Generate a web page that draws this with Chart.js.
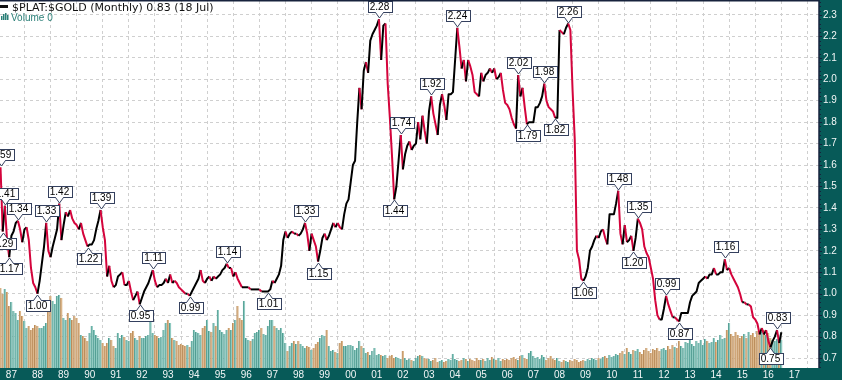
<!DOCTYPE html>
<html lang="en">
<head>
<meta charset="utf-8">
<title>$PLAT:$GOLD (Monthly)</title>
<script src="https://cdn.jsdelivr.net/npm/chart.js@4.4.0/dist/chart.umd.min.js"></script>
<style>
    html, body { margin: 0; padding: 0; background: #fff; }
    #wrap { width: 842px; height: 380px; position: relative; overflow: hidden; }
    canvas { display: block; }
</style>
</head>
<body>
<div id="wrap"><canvas id="ratioChart" width="842" height="380"></canvas></div>
<script>
// months are counted from Jan 1987 = 0, first close is Aug 1986
const firstMonth = -5;

const ratio = [
    1.59, 1.29, 1.41, 1.25, 1.17,
    1.27, 1.29, 1.33, 1.34, 1.30, 1.24, 1.30, 1.31, 1.25, 1.12, 1.05, 1.03,
    1.00, 1.06, 1.14, 1.22, 1.33, 1.20, 1.17, 1.22, 1.26, 1.30, 1.42, 1.25,
    1.32, 1.38, 1.36, 1.39, 1.35, 1.33, 1.32, 1.30, 1.33, 1.28, 1.25, 1.22,
    1.23, 1.23, 1.25, 1.30, 1.34, 1.39, 1.31, 1.25, 1.08, 1.13, 1.06, 1.03,
    1.04, 1.08, 1.09, 1.10, 1.04, 1.04, 1.06, 1.01, 0.97, 0.99, 1.01, 0.95,
    0.98, 1.01, 1.03, 1.05, 1.08, 1.11, 1.06, 1.03, 1.04, 1.04, 1.05, 1.07,
    1.05, 1.09, 1.05, 1.06, 1.05, 1.03, 1.02, 1.01, 1.00, 1.00, 0.99, 1.01,
    1.03, 1.05, 1.07, 1.11, 1.06, 1.05, 1.07, 1.08, 1.06, 1.08, 1.07, 1.08,
    1.09, 1.11, 1.12, 1.14, 1.12, 1.12, 1.08, 1.10, 1.07, 1.05, 1.03, 1.03,
    1.03, 1.03, 1.02, 1.02, 1.02, 1.02, 1.02, 1.01, 1.01, 1.01, 1.01, 1.02,
    1.06, 1.05, 1.07, 1.09, 1.13, 1.25, 1.29, 1.26, 1.28, 1.29, 1.28, 1.28,
    1.27, 1.28, 1.30, 1.33, 1.28, 1.20, 1.28, 1.25, 1.22, 1.15, 1.20, 1.26,
    1.28, 1.25, 1.27, 1.30, 1.33, 1.31, 1.33, 1.31, 1.30, 1.37, 1.42, 1.44,
    1.52, 1.60, 1.62, 1.80, 1.96, 1.86, 2.04, 2.08, 2.03, 2.18, 2.21, 2.23,
    2.25, 2.28, 2.09, 2.25, 2.26, 1.98, 1.82, 1.64, 1.44, 1.50, 1.62, 1.74,
    1.58, 1.65, 1.69, 1.71, 1.67, 1.69, 1.70, 1.80, 1.72, 1.83, 1.76, 1.70,
    1.85, 1.92, 1.84, 1.79, 1.74, 1.88, 1.93, 1.88, 1.81, 1.93, 1.93, 1.94,
    2.09, 2.24, 2.15, 2.05, 2.09, 1.99, 2.09, 2.06, 2.02, 1.94, 1.93, 1.92,
    2.03, 1.99, 2.02, 2.03, 2.05, 2.03, 2.05, 2.00, 2.01, 2.03, 1.95, 1.89,
    1.88, 1.86, 1.82, 1.79, 1.77, 2.02, 1.92, 1.96, 1.87, 1.79, 1.80, 1.80,
    1.80, 1.87, 1.87, 1.89, 1.92, 1.98, 1.90, 1.87, 1.86, 1.85, 1.82, 1.82,
    2.23, 2.22, 2.21, 2.24, 2.26, 2.23, 1.95, 1.72, 1.20, 1.16, 1.07, 1.06,
    1.08, 1.12, 1.20, 1.22, 1.25, 1.27, 1.26, 1.29, 1.30, 1.26, 1.23, 1.37,
    1.37, 1.37, 1.42, 1.48, 1.28, 1.23, 1.32, 1.24, 1.25, 1.27, 1.20, 1.26,
    1.35, 1.33, 1.30, 1.22, 1.19, 1.17, 1.12, 1.07, 0.97, 0.90, 0.88, 0.88,
    0.93, 0.99, 0.95, 0.92, 0.89, 0.89, 0.88, 0.87, 0.91, 0.91, 0.91, 0.91,
    0.96, 0.99, 1.00, 1.01, 1.05, 1.06, 1.07, 1.08, 1.07, 1.09, 1.09, 1.12,
    1.09, 1.09, 1.10, 1.10, 1.16, 1.11, 1.12, 1.09, 1.07, 1.05, 1.03, 1.00,
    0.96, 0.96, 0.95, 0.95, 0.94, 0.89, 0.88, 0.86, 0.81, 0.84, 0.81, 0.83,
    0.78, 0.75, 0.78, 0.80, 0.83, 0.77, 0.82
];

const volume = [
    80, 74, 79, 76, 62,
    66, 57, 55, 48, 57, 52, 47, 40, 42, 38, 40, 43,
    42, 40, 40, 42, 45, 62, 72, 67, 64, 72, 73, 70,
    50, 48, 55, 50, 48, 52, 50, 45, 33, 32, 30, 27,
    35, 42, 38, 33, 30, 28, 25, 22, 25, 30, 28, 22,
    20, 35, 30, 33, 31, 28, 27, 35, 37, 30, 28, 32,
    30, 30, 32, 33, 55, 35, 33, 32, 30, 31, 38, 45,
    48, 45, 30, 28, 27, 23, 24, 23, 22, 23, 21, 27,
    38, 36, 35, 33, 40, 42, 48, 37, 36, 45, 42, 58,
    38, 36, 34, 38, 40, 38, 45, 48, 62, 50, 48, 67,
    30, 28, 27, 29, 35, 36, 38, 40, 34, 33, 42, 48,
    48, 42, 40, 38, 40, 35, 25, 17, 22, 25, 27, 24,
    27, 24, 22, 20, 22, 21, 18, 20, 24, 26, 30, 33,
    32, 38, 22, 17, 18, 16, 15, 25, 27, 22, 22, 23,
    23, 22, 18, 20, 27, 22, 20, 15, 16, 13, 17, 20,
    13, 14, 13, 12, 13, 10, 12, 13, 10, 11, 10, 9,
    17, 10, 8, 9, 8, 7, 10, 12, 13, 12, 10, 9,
    9, 7, 8, 10, 6, 7, 8, 6, 7, 9, 8, 14,
    9, 8, 7, 8, 10, 9, 7, 9, 8, 7, 10, 8,
    8, 9, 7, 10, 8, 11, 9, 8, 10, 7, 9, 8,
    9, 8, 10, 11, 9, 8, 12, 13, 10, 9, 15, 17,
    12, 10, 11, 9, 13, 11, 8, 10, 12, 9, 8, 10,
    7, 6, 8, 7, 6, 8, 7, 9, 8, 6, 7, 8,
    7, 9, 8, 10, 9, 8, 10, 9, 11, 12, 10, 13,
    11, 12, 14, 13, 15, 17, 14, 20, 16, 14, 18, 17,
    19, 16, 14, 18, 20, 17, 15, 19, 18, 20, 17, 19,
    20, 18, 22, 19, 23, 21, 20, 27, 22, 20, 26, 25,
    28, 24, 22, 27, 25, 28, 23, 29, 27, 25, 26, 30,
    26, 28, 33, 29, 30, 38, 45, 34, 32, 36, 33, 30,
    32, 34, 30, 36, 33, 35, 31, 37, 34, 36, 38, 33,
    35, 30, 28, 27, 29, 26, 28
];

const yearLabels = ['87', '88', '89', '90', '91', '92', '93', '94', '95', '96', '97', '98', '99', '00', '01',
    '02', '03', '04', '05', '06', '07', '08', '09', '10', '11', '12', '13', '14', '15', '16', '17'];
const priceLabels = ['0.7', '0.8', '0.9', '1.0', '1.1', '1.2', '1.3', '1.4', '1.5', '1.6', '1.7', '1.8',
    '1.9', '2.0', '2.1', '2.2', '2.3'];

// labelled turning points: month number and whether the tag sits above or below the line
const markMonths = [-5, -4, -3, -1, 3, 12, 16, 22, 35, 41, 59, 65, 82, 99, 118, 135, 141, 169, 176, 179,
    193, 205, 233, 237, 245, 250, 256, 263, 279, 286, 288, 301, 307, 328, 349, 352];
const markSides = ['up', 'dn', 'up', 'dn', 'up', 'dn', 'up', 'up', 'dn', 'up', 'dn', 'up', 'dn', 'up', 'dn', 'up',
    'dn', 'up', 'dn', 'up', 'up', 'up', 'up', 'dn', 'up', 'dn', 'up', 'dn', 'up', 'dn', 'up', 'up', 'dn', 'up', 'dn', 'up'];

const titleText = '$PLAT:$GOLD (Monthly) 0.83 (18 Jul)';
const volumeText = 'Volume 0';

const band = '#075a58';
const upLine = '#000000';
const downLine = '#d4043c';

document.addEventListener('DOMContentLoaded', () => {
    const months = ratio.map((_, i) => firstMonth + i);
    const isUp = (i) => i > 0 && ratio[i] >= ratio[i - 1];

    // teal axis bands + frame of the plot area
    const framePlugin = {
        id: 'frame',
        beforeDraw(chart) {
            const { ctx, chartArea: a, width, height } = chart;
            ctx.save();
            ctx.fillStyle = band;
            ctx.fillRect(a.right, 0, width - a.right, height);
            ctx.fillRect(0, a.bottom, width, height - a.bottom);
            ctx.restore();
        },
        afterDraw(chart) {
            const { ctx, chartArea: a, scales: { y } } = chart;
            ctx.save();
            ctx.strokeStyle = '#17223c';
            ctx.lineWidth = 1.5;
            ctx.beginPath();
            ctx.moveTo(0, 0.75);
            ctx.lineTo(a.right, 0.75);
            ctx.lineTo(a.right, a.bottom);
            ctx.stroke();
            // small ticks along the price axis
            ctx.lineWidth = 1;
            for (let v = 66; v <= 236; v += 2) {
                const py = Math.round(y.getPixelForValue(v / 100)) + 0.5;
                if (py < a.top || py > a.bottom) continue;
                ctx.beginPath();
                ctx.moveTo(a.right, py);
                ctx.lineTo(a.right + (v % 10 === 0 ? 3 : 2), py);
                ctx.stroke();
            }
            // header
            ctx.fillStyle = '#111';
            ctx.fillRect(0, 5, 8, 3);
            ctx.font = '11px "DejaVu Sans", Verdana, sans-serif';
            ctx.textBaseline = 'alphabetic';
            ctx.textAlign = 'left';
            ctx.fillText(titleText, 12, 11);
            ctx.fillStyle = '#2a7f77';
            [4, 6, 7, 5].forEach((h, i) => ctx.fillRect(1 + i * 2, 20 - h, 1.5, h));
            ctx.font = '10px "Liberation Sans", Arial, sans-serif';
            ctx.fillText(volumeText, 11, 20.5);
            ctx.restore();
        }
    };

    // boxed value tags with a small pointer
    const markerPlugin = {
        id: 'markers',
        afterDatasetsDraw(chart) {
            const { ctx, scales: { x, y } } = chart;
            ctx.save();
            ctx.font = '10px "Liberation Sans", Arial, sans-serif';
            ctx.textAlign = 'center';
            ctx.textBaseline = 'middle';
            ctx.lineWidth = 1;
            markMonths.forEach((m, i) => {
                const v = ratio[m - firstMonth];
                const label = v.toFixed(2);
                const px = Math.round(x.getPixelForValue(m)) + 0.5;
                const py = Math.round(y.getPixelForValue(v));
                const w = Math.ceil(ctx.measureText(label).width) + 4;
                const h = 11;
                const up = markSides[i] === 'up';
                const tip = up ? py - 1 : py + 1;
                const edge = up ? tip - 5.5 : tip + 5.5;
                const top = up ? edge - h : edge;
                const left = Math.round(px - w / 2) + 0.5;
                ctx.fillStyle = '#fff';
                ctx.strokeStyle = '#34405e';
                ctx.fillRect(left, top, w, h);
                ctx.strokeRect(left, top, w, h);
                ctx.beginPath();
                ctx.moveTo(px - 4, edge + (up ? -0.6 : 0.6));
                ctx.lineTo(px, tip);
                ctx.lineTo(px + 4, edge + (up ? -0.6 : 0.6));
                ctx.closePath();
                ctx.fill();
                ctx.beginPath();
                ctx.moveTo(px - 4, edge);
                ctx.lineTo(px, tip);
                ctx.lineTo(px + 4, edge);
                ctx.stroke();
                ctx.fillStyle = '#000';
                ctx.fillText(label, px, top + h / 2 + 0.5);
            });
            ctx.restore();
        }
    };

    const ctx = document.getElementById('ratioChart');
    new Chart(ctx, {
        type: 'line',
        data: {
            datasets: [{
                type: 'line',
                data: months.map((m, i) => ({ x: m, y: ratio[i] })),
                yAxisID: 'y',
                borderWidth: 2,
                borderColor: upLine,
                pointRadius: 0,
                tension: 0,
                borderJoinStyle: 'round',
                segment: {
                    borderColor: (c) => (c.p1.parsed.y >= c.p0.parsed.y ? upLine : downLine)
                },
                order: 0
            }, {
                type: 'bar',
                data: months.map((m, i) => ({ x: m, y: volume[i] })),
                yAxisID: 'yVol',
                barThickness: 2,
                backgroundColor: ratio.map((_, i) => (isUp(i) ? '#8fcac1' : '#dcb78b')),
                borderColor: ratio.map((_, i) => (isUp(i) ? '#4e9b90' : '#b98b5a')),
                borderWidth: { left: 1, top: 0, right: 0, bottom: 0 },
                borderSkipped: false,
                order: 1
            }]
        },
        options: {
            responsive: false,
            animation: false,
            devicePixelRatio: 1,
            layout: { padding: { top: 1, left: 0, right: 0, bottom: 0 } },
            plugins: { legend: { display: false }, tooltip: { enabled: false } },
            scales: {
                x: {
                    type: 'linear', position: 'bottom', min: -5.24, max: 371.3, offset: false,
                    grid: { color: '#cfcfcf', drawTicks: false },
                    border: { display: false, dash: [3, 3] },
                    ticks: {
                        color: '#f2f6f6', padding: 1, autoSkip: false, maxRotation: 0,
                        font: { family: '"Liberation Sans", Arial, sans-serif', size: 10 },
                        callback: (v, i) => yearLabels[i]
                    },
                    afterBuildTicks: (s) => { s.ticks = yearLabels.map((_, i) => ({ value: i * 12 })); },
                    afterFit: (s) => {
                        s.height = 12;
                        s.paddingLeft = 0;
                        s.paddingRight = 0;
                    }
                },
                y: {
                    type: 'linear', position: 'right', min: 0.6535, max: 2.365,
                    grid: { color: '#cfcfcf', drawTicks: false },
                    border: { display: false, dash: [3, 3] },
                    ticks: {
                        color: '#f2f6f6', padding: 4,
                        font: { family: '"Liberation Sans", Arial, sans-serif', size: 10 },
                        callback: (v, i) => priceLabels[i]
                    },
                    afterBuildTicks: (s) => { s.ticks = priceLabels.map((t) => ({ value: parseFloat(t) })); },
                    afterFit: (s) => {
                        s.width = 23;
                        s.paddingTop = 0;
                        s.paddingBottom = 0;
                    }
                },
                yVol: { type: 'linear', display: false, min: 0, max: 367 }
            }
        },
        plugins: [framePlugin, markerPlugin]
    });
});
</script>
</body>
</html>
